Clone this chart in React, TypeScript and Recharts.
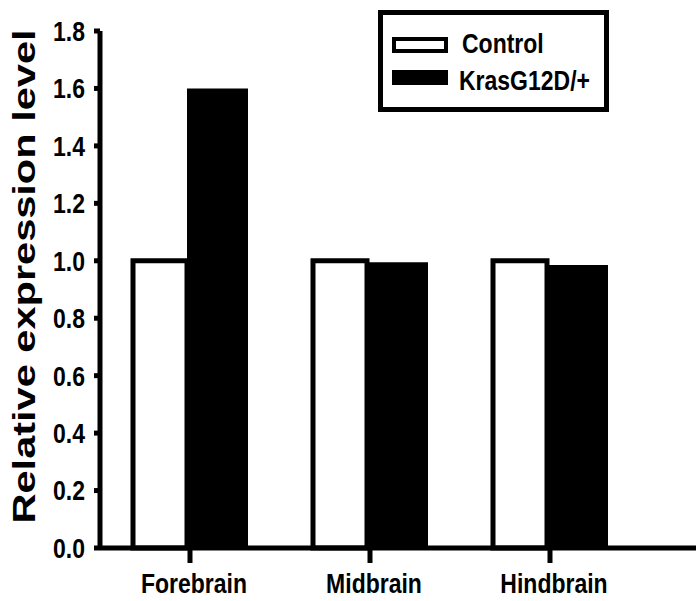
import React from 'react';
import { BarChart, Bar, XAxis, YAxis, Legend } from 'recharts';

const categories = ['Forebrain', 'Midbrain', 'Hindbrain'];
const controlValues = [1.0, 1.0, 1.0];
const krasValues = [1.6, 0.995, 0.985];
const yTicks = [0, 0.2, 0.4, 0.6, 0.8, 1.0, 1.2, 1.4, 1.6, 1.8];
const seriesNames = ['Control', 'KrasG12D/+'];

const data = categories.map((region, i) => ({
  region,
  control: controlValues[i],
  kras: krasValues[i],
}));

const FONT = '"Liberation Sans", Arial, sans-serif';

const renderYTick = (props: any) => {
  const { x, y, payload } = props;
  return (
    <g transform={`translate(${x},${y})`}>
      <text
        transform="scale(1,1.2)"
        textAnchor="end"
        dy="0.358em"
        fontFamily={FONT}
        fontWeight="bold"
        fontSize={23}
        fill="#000"
      >
        {Number(payload.value).toFixed(1)}
      </text>
    </g>
  );
};

const renderXTick = (props: any) => {
  const { x, y, payload } = props;
  return (
    <g transform={`translate(${x + 4},${y})`}>
      <text
        transform="scale(1,1.2)"
        textAnchor="middle"
        dy="0.716em"
        fontFamily={FONT}
        fontWeight="bold"
        fontSize={23}
        fill="#000"
      >
        {payload.value}
      </text>
    </g>
  );
};

const renderTitle = () => (
  <text
    transform="translate(35,276.5) rotate(-90) scale(1.34,1)"
    textAnchor="middle"
    fontFamily={FONT}
    fontWeight="bold"
    fontSize={31}
    fill="#000"
  >
    Relative expression level
  </text>
);

const renderLegend = () => (
  <svg width={231} height={102} style={{ display: 'block' }}>
    <rect x={2.5} y={2.5} width={226} height={97} fill="#fff" stroke="#000" strokeWidth={5} />
    <rect x={16} y={29} width={52} height={12} fill="#fff" stroke="#000" strokeWidth={4} />
    <rect x={14} y={60} width={56} height={15} fill="#000" />
    <g transform="translate(84,43)">
      <text transform="scale(1,1.2)" fontFamily={FONT} fontWeight="bold" fontSize={23} fill="#000">
        {seriesNames[0]}
      </text>
    </g>
    <g transform="translate(81,80)">
      <text transform="scale(1,1.2)" fontFamily={FONT} fontWeight="bold" fontSize={23} fill="#000">
        {seriesNames[1]}
      </text>
    </g>
  </svg>
);

export default function App() {
  return (
    <div style={{ position: 'absolute', left: 0, top: 0, background: '#fff' }}>
      <BarChart
        width={696}
        height={601}
        data={data}
        barGap={0}
        margin={{ top: 31, right: 0, bottom: 0, left: 0 }}
      >
        <XAxis
          dataKey="region"
          height={53}
          padding={{ left: 0, right: 56 }}
          axisLine={{ stroke: '#000', strokeWidth: 5 }}
          tickLine={{ stroke: '#000', strokeWidth: 5 }}
          tickSize={15}
          tickMargin={10}
          tick={renderXTick}
        />
        <YAxis
          width={100}
          domain={[0, 1.8]}
          ticks={yTicks}
          interval={0}
          axisLine={{ stroke: '#000', strokeWidth: 5 }}
          tickLine={{ stroke: '#000', strokeWidth: 5 }}
          tickSize={6}
          tickMargin={9}
          tick={renderYTick}
          label={renderTitle}
        />
        <Legend
          layout="vertical"
          align="center"
          verticalAlign="middle"
          wrapperStyle={{ left: 378, top: 10, width: 231, height: 102 }}
          content={renderLegend}
        />
        <Bar
          dataKey="control"
          name={seriesNames[0]}
          barSize={54}
          fill="#fff"
          stroke="#000"
          strokeWidth={5}
          isAnimationActive={false}
        />
        <Bar
          dataKey="kras"
          name={seriesNames[1]}
          barSize={61}
          fill="#000"
          isAnimationActive={false}
        />
      </BarChart>
    </div>
  );
}
